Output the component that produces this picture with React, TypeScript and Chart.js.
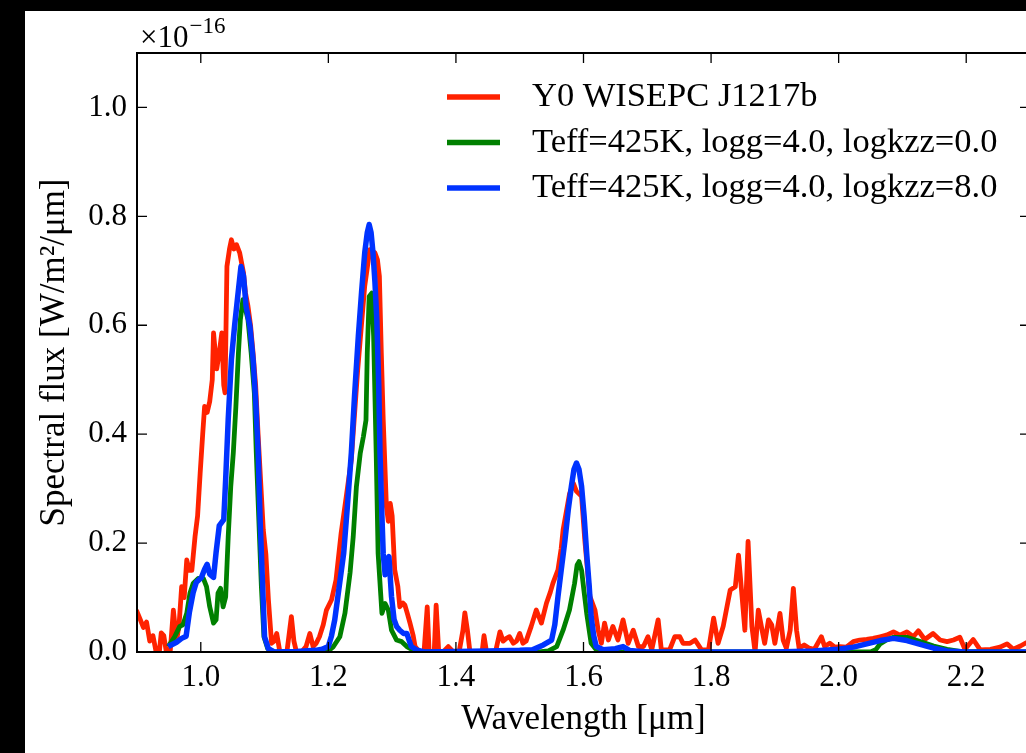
import React, { useEffect, useRef } from "react";
import { Chart, registerables } from "chart.js";

Chart.register(...registerables);

const FONT = '"Liberation Serif", "Times New Roman", serif';

const seriesLabels = [
  "Y0 WISEPC J1217b",
  "Teff=425K, logg=4.0, logkzz=0.0",
  "Teff=425K, logg=4.0, logkzz=8.0",
];
const seriesColors = ["#ff2200", "#008000", "#0033ff"];

const xTicks = [1.0, 1.2, 1.4, 1.6, 1.8, 2.0, 2.2];
const yTicks = [0.0, 0.2, 0.4, 0.6, 0.8, 1.0];
const xTitle = "Wavelength [μm]";
const yTitle = "Spectral flux [W/m²/μm]";
const yExponent = "−16";

// [wavelength (μm), flux (×1e-16 W/m²/μm)]
const observed: [number, number][] = [
  [0.899, 0.077], [0.905, 0.06], [0.91, 0.045], [0.915, 0.055], [0.92, 0.02], [0.925, 0.03], [0.93, 0.0], [0.935, 0.0],
  [0.938, 0.035], [0.942, 0.03], [0.946, 0.0], [0.952, 0.0], [0.957, 0.077], [0.962, 0.02], [0.966, 0.05], [0.97, 0.12],
  [0.974, 0.1], [0.978, 0.169], [0.982, 0.15], [0.986, 0.15], [0.991, 0.212], [0.995, 0.25], [0.999, 0.328], [1.003, 0.4],
  [1.006, 0.451], [1.01, 0.44], [1.014, 0.46], [1.018, 0.5], [1.02, 0.586], [1.025, 0.52], [1.029, 0.55], [1.033, 0.586],
  [1.036, 0.49], [1.038, 0.476], [1.041, 0.708], [1.045, 0.74], [1.048, 0.757], [1.052, 0.74], [1.056, 0.748], [1.061, 0.733],
  [1.067, 0.696], [1.07, 0.66], [1.074, 0.635], [1.078, 0.6], [1.082, 0.549], [1.086, 0.49], [1.09, 0.396], [1.094, 0.31],
  [1.098, 0.224], [1.102, 0.18], [1.106, 0.096], [1.111, 0.016], [1.115, 0.02], [1.119, 0.034], [1.124, 0.0], [1.129, 0.0],
  [1.135, 0.0], [1.142, 0.065], [1.146, 0.02], [1.15, 0.0], [1.158, 0.0], [1.165, 0.01], [1.171, 0.034], [1.176, 0.01],
  [1.181, 0.016], [1.186, 0.028], [1.192, 0.05], [1.197, 0.077], [1.205, 0.096], [1.212, 0.132], [1.22, 0.218], [1.228, 0.285],
  [1.236, 0.353], [1.246, 0.518], [1.257, 0.672], [1.265, 0.739], [1.273, 0.733], [1.277, 0.72], [1.28, 0.69], [1.283, 0.55],
  [1.286, 0.427], [1.291, 0.267], [1.294, 0.24], [1.297, 0.273], [1.3, 0.25], [1.304, 0.151], [1.309, 0.12], [1.312, 0.083],
  [1.317, 0.09], [1.32, 0.086], [1.324, 0.07], [1.328, 0.053], [1.333, 0.03], [1.336, 0.01], [1.343, 0.0], [1.35, 0.0],
  [1.355, 0.083], [1.358, 0.0], [1.366, 0.0], [1.369, 0.086], [1.373, 0.0], [1.38, 0.0], [1.388, 0.01], [1.396, 0.0],
  [1.405, 0.0], [1.411, 0.04], [1.414, 0.072], [1.418, 0.04], [1.422, 0.0], [1.432, 0.0], [1.441, 0.0], [1.444, 0.03],
  [1.448, 0.0], [1.455, 0.0], [1.462, 0.0], [1.469, 0.037], [1.474, 0.02], [1.479, 0.025], [1.484, 0.028], [1.49, 0.016],
  [1.495, 0.02], [1.5, 0.034], [1.505, 0.016], [1.51, 0.02], [1.518, 0.047], [1.526, 0.077], [1.534, 0.053], [1.542, 0.09],
  [1.548, 0.11], [1.552, 0.126], [1.56, 0.151], [1.565, 0.19], [1.568, 0.224], [1.578, 0.29], [1.584, 0.31], [1.589, 0.295],
  [1.597, 0.286], [1.602, 0.206], [1.61, 0.102], [1.618, 0.077], [1.623, 0.04], [1.628, 0.016], [1.633, 0.053], [1.639, 0.022],
  [1.646, 0.047], [1.654, 0.022], [1.662, 0.059], [1.67, 0.016], [1.678, 0.04], [1.686, 0.01], [1.694, 0.01], [1.701, 0.028],
  [1.707, 0.004], [1.717, 0.059], [1.722, 0.004], [1.735, 0.004], [1.743, 0.028], [1.751, 0.028], [1.756, 0.016], [1.767, 0.016],
  [1.775, 0.022], [1.785, 0.004], [1.796, 0.004], [1.804, 0.062], [1.811, 0.016], [1.819, 0.047], [1.83, 0.114], [1.838, 0.12],
  [1.843, 0.178], [1.848, 0.11], [1.853, 0.04], [1.858, 0.203], [1.864, 0.047], [1.869, 0.0], [1.874, 0.077], [1.88, 0.04],
  [1.884, 0.016], [1.89, 0.059], [1.895, 0.05], [1.9, 0.016], [1.908, 0.071], [1.913, 0.022], [1.918, 0.007], [1.924, 0.04],
  [1.929, 0.117], [1.934, 0.04], [1.938, 0.007], [1.946, 0.013], [1.954, 0.007], [1.962, 0.005], [1.973, 0.028], [1.978, 0.01],
  [1.986, 0.016], [1.994, 0.009], [2.002, 0.01], [2.012, 0.009], [2.023, 0.019], [2.033, 0.022], [2.044, 0.023], [2.054, 0.025],
  [2.065, 0.028], [2.075, 0.031], [2.086, 0.037], [2.096, 0.031], [2.107, 0.037], [2.117, 0.028], [2.125, 0.039], [2.135, 0.023],
  [2.148, 0.034], [2.159, 0.022], [2.17, 0.019], [2.18, 0.022], [2.19, 0.027], [2.198, 0.005], [2.211, 0.023], [2.222, 0.004],
  [2.238, 0.005], [2.253, 0.009], [2.264, 0.015], [2.274, 0.005], [2.285, 0.011], [2.294, 0.017], [2.305, 0.012],
];

const modelKzz0: [number, number][] = [
  [0.949, 0.01], [0.959, 0.028], [0.967, 0.047], [0.972, 0.05], [0.978, 0.071], [0.983, 0.108], [0.988, 0.126], [0.996, 0.135],
  [1.004, 0.135], [1.009, 0.12], [1.014, 0.083], [1.02, 0.053], [1.024, 0.059], [1.027, 0.108], [1.031, 0.117], [1.035, 0.083],
  [1.039, 0.101], [1.043, 0.212], [1.047, 0.304], [1.051, 0.366], [1.055, 0.45], [1.059, 0.549], [1.062, 0.61], [1.066, 0.647],
  [1.069, 0.635], [1.074, 0.61], [1.079, 0.549], [1.084, 0.475], [1.087, 0.366], [1.091, 0.243], [1.095, 0.12], [1.099, 0.028],
  [1.105, 0.006], [1.115, 0.0], [1.15, 0.0], [1.19, 0.0], [1.2, 0.002], [1.208, 0.01], [1.218, 0.028], [1.226, 0.071],
  [1.234, 0.145], [1.239, 0.212], [1.244, 0.304], [1.25, 0.365], [1.255, 0.396], [1.259, 0.426], [1.261, 0.549], [1.264, 0.653],
  [1.268, 0.659], [1.271, 0.58], [1.275, 0.365], [1.278, 0.181], [1.284, 0.071], [1.289, 0.089], [1.294, 0.077], [1.299, 0.04],
  [1.307, 0.022], [1.315, 0.019], [1.323, 0.01], [1.335, 0.002], [1.345, 0.0], [1.45, 0.0], [1.53, 0.0], [1.545, 0.002],
  [1.558, 0.01], [1.568, 0.04], [1.578, 0.077], [1.586, 0.126], [1.59, 0.16], [1.593, 0.166], [1.597, 0.15], [1.601, 0.11],
  [1.605, 0.071], [1.612, 0.016], [1.62, 0.004], [1.64, 0.0], [1.8, 0.0], [2.0, 0.0], [2.05, 0.0], [2.058, 0.004],
  [2.065, 0.015], [2.075, 0.022], [2.086, 0.027], [2.107, 0.027], [2.128, 0.019], [2.149, 0.011], [2.17, 0.005], [2.19, 0.001],
  [2.25, 0.0], [2.31, 0.0],
];

const modelKzz8: [number, number][] = [
  [0.949, 0.01], [0.962, 0.018], [0.97, 0.025], [0.977, 0.029], [0.982, 0.072], [0.988, 0.109], [0.993, 0.128], [1.001, 0.137],
  [1.006, 0.152], [1.01, 0.161], [1.014, 0.143], [1.02, 0.137], [1.024, 0.183], [1.029, 0.232], [1.036, 0.243], [1.039, 0.317],
  [1.043, 0.427], [1.048, 0.537], [1.053, 0.599], [1.058, 0.654], [1.063, 0.708], [1.067, 0.69], [1.071, 0.635], [1.077, 0.598],
  [1.082, 0.537], [1.086, 0.463], [1.09, 0.366], [1.093, 0.243], [1.097, 0.121], [1.1, 0.028], [1.106, 0.006], [1.115, 0.0],
  [1.15, 0.001], [1.18, 0.003], [1.19, 0.005], [1.2, 0.01], [1.205, 0.03], [1.21, 0.059], [1.217, 0.12], [1.224, 0.181],
  [1.23, 0.27], [1.236, 0.365], [1.241, 0.47], [1.247, 0.58], [1.252, 0.66], [1.257, 0.733], [1.261, 0.77], [1.264, 0.785],
  [1.267, 0.77], [1.27, 0.733], [1.273, 0.68], [1.276, 0.61], [1.279, 0.49], [1.281, 0.365], [1.284, 0.25], [1.286, 0.181],
  [1.289, 0.142], [1.292, 0.17], [1.295, 0.175], [1.299, 0.102], [1.303, 0.06], [1.307, 0.047], [1.312, 0.04], [1.318, 0.034],
  [1.323, 0.034], [1.33, 0.01], [1.338, 0.004], [1.35, 0.0], [1.45, 0.002], [1.5, 0.003], [1.52, 0.004], [1.537, 0.013],
  [1.55, 0.022], [1.555, 0.05], [1.56, 0.102], [1.565, 0.15], [1.571, 0.206], [1.576, 0.26], [1.581, 0.304], [1.585, 0.335],
  [1.589, 0.347], [1.593, 0.335], [1.597, 0.304], [1.601, 0.25], [1.605, 0.181], [1.609, 0.12], [1.612, 0.065], [1.616, 0.03],
  [1.62, 0.01], [1.631, 0.004], [1.65, 0.006], [1.662, 0.01], [1.672, 0.003], [1.7, 0.0], [1.9, 0.0], [1.96, 0.002],
  [1.999, 0.005], [2.023, 0.009], [2.044, 0.015], [2.065, 0.021], [2.086, 0.025], [2.107, 0.021], [2.128, 0.014], [2.149, 0.007],
  [2.17, 0.002], [2.2, 0.0], [2.31, 0.0],
];

const decorPlugin = {
  id: "decor",
  afterDatasetsDraw(chart: any) {
    const { ctx, chartArea: a, scales } = chart;
    const xs = scales.x;
    const ys = scales.y;
    ctx.save();
    ctx.strokeStyle = "#000";
    ctx.lineWidth = 1.3;
    ctx.beginPath();
    for (const t of xTicks) {
      const px = xs.getPixelForValue(t);
      ctx.moveTo(px, a.bottom);
      ctx.lineTo(px, a.bottom - 10);
      ctx.moveTo(px, a.top);
      ctx.lineTo(px, a.top + 10);
    }
    for (const t of yTicks) {
      const py = ys.getPixelForValue(t);
      ctx.moveTo(a.left, py);
      ctx.lineTo(a.left + 10, py);
      ctx.moveTo(a.right, py);
      ctx.lineTo(a.right - 10, py);
    }
    ctx.stroke();
    ctx.lineWidth = 2;
    ctx.strokeRect(a.left, a.top, a.right - a.left, a.bottom - a.top);

    // axis multiplier
    ctx.fillStyle = "#000";
    ctx.textAlign = "left";
    ctx.textBaseline = "alphabetic";
    ctx.font = `31px ${FONT}`;
    const base = "×10";
    ctx.fillText(base, a.left + 3, a.top - 6);
    const w = ctx.measureText(base).width;
    ctx.font = `23px ${FONT}`;
    ctx.fillText(yExponent, a.left + 3 + w + 1, a.top - 20);

    // legend
    ctx.font = `34.5px ${FONT}`;
    ctx.textBaseline = "middle";
    seriesLabels.forEach((lab, i) => {
      const y = a.top + 44 + i * 45.5;
      ctx.strokeStyle = seriesColors[i];
      ctx.lineWidth = 5.5;
      ctx.lineCap = "butt";
      ctx.beginPath();
      ctx.moveTo(a.left + 310, y);
      ctx.lineTo(a.left + 363, y);
      ctx.stroke();
      ctx.fillStyle = "#000";
      ctx.fillText(lab, a.left + 395, y);
    });
    ctx.restore();
  },
};

export default function App() {
  const ref = useRef<HTMLCanvasElement>(null);
  useEffect(() => {
    if (!ref.current) return;
    const toPts = (arr: [number, number][]) => arr.map(([x, y]) => ({ x, y }));
    const chart = new Chart(ref.current, {
      type: "line",
      data: {
        datasets: [
          { label: seriesLabels[0], data: toPts(observed), borderColor: seriesColors[0], borderWidth: 4.8, order: 2 },
          { label: seriesLabels[1], data: toPts(modelKzz0), borderColor: seriesColors[1], borderWidth: 4.8, order: 1 },
          { label: seriesLabels[2], data: toPts(modelKzz8), borderColor: seriesColors[2], borderWidth: 5.5, order: 0 },
        ].map((d) => ({ ...d, pointRadius: 0, fill: false, tension: 0, clip: 0, borderJoinStyle: "round" as const })),
      },
      options: {
        animation: false,
        responsive: false,
        devicePixelRatio: 1,
        layout: { padding: { top: 42, right: 0, left: 0, bottom: 0 } },
        plugins: { legend: { display: false }, tooltip: { enabled: false } },
        scales: {
          x: {
            type: "linear",
            min: 0.9,
            max: 2.3,
            grid: { display: false, drawTicks: false },
            border: { display: false },
            afterBuildTicks: (s: any) => {
              s.ticks = xTicks.map((value) => ({ value }));
            },
            afterFit: (s: any) => {
              s.height = 101;
            },
            ticks: {
              autoSkip: false,
              maxRotation: 0,
              minRotation: 0,
              padding: 7,
              color: "#000",
              font: { family: FONT, size: 31 },
              callback: (v: any) => Number(v).toFixed(1),
            },
            title: {
              display: true,
              text: xTitle,
              color: "#000",
              font: { family: FONT, size: 35 },
              padding: { top: 0, bottom: 12 },
            },
          },
          y: {
            type: "linear",
            min: 0,
            max: 1.1,
            grid: { display: false, drawTicks: false },
            border: { display: false },
            afterBuildTicks: (s: any) => {
              s.ticks = yTicks.map((value) => ({ value }));
            },
            afterFit: (s: any) => {
              s.width = 112;
            },
            ticks: {
              autoSkip: false,
              padding: 10,
              color: "#000",
              font: { family: FONT, size: 31 },
              callback: (v: any) => Number(v).toFixed(1),
            },
            title: {
              display: true,
              text: yTitle,
              color: "#000",
              font: { family: FONT, size: 35 },
              padding: { top: 9, bottom: 0 },
            },
          },
        },
      },
      plugins: [decorPlugin],
    } as any);
    return () => chart.destroy();
  }, []);

  return (
    <div style={{ position: "fixed", left: 0, top: 0, width: 1026, height: 753, background: "#000", overflow: "hidden" }}>
      <div style={{ position: "absolute", left: 25, top: 11, width: 1001, height: 742, background: "#fff", overflow: "hidden" }}>
        <canvas ref={ref} width={1005} height={742} style={{ display: "block", width: 1005, height: 742 }} />
      </div>
    </div>
  );
}
